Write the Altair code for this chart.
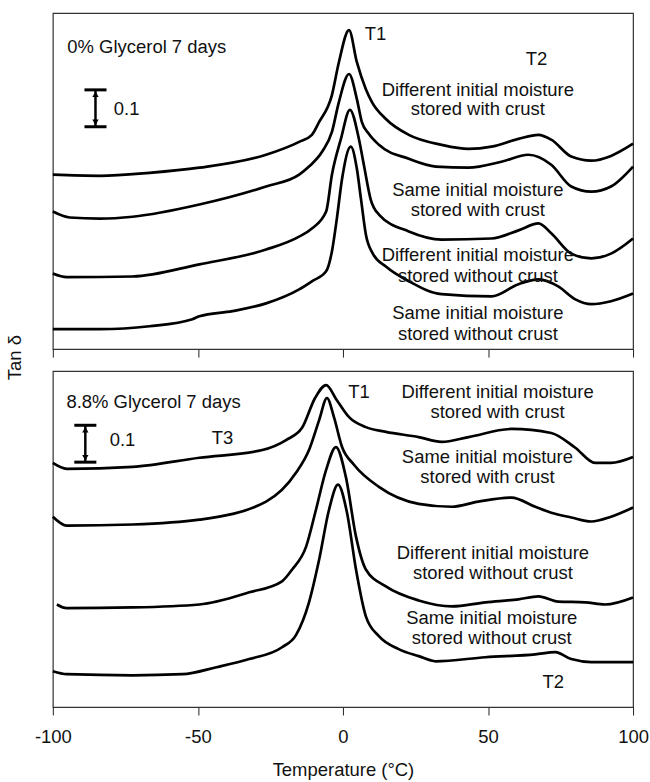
import altair as alt
import pandas as pd

FONT = "Liberation Sans"
FS = 18.5

# ---------------- data: top panel (0% glycerol) ----------------
top_dwc_t = [-100, -83.8, -66.7, -49.5, -26.5, -15.1, -10.7, -8.2, -3.8, -1.4, 2.1, 4.8, 7.9, 10.0, 14.8, 22.7, 34.0, 43.3, 51.2, 60.5, 67.4, 71.8, 78.7, 85.6, 92.4, 100]
top_dwc_v = [0.473, 0.470, 0.478, 0.492, 0.527, 0.562, 0.581, 0.616, 0.689, 0.778, 0.865, 0.778, 0.705, 0.670, 0.624, 0.581, 0.554, 0.543, 0.549, 0.570, 0.581, 0.568, 0.522, 0.511, 0.524, 0.557]

top_swc_t = [-100, -94.2, -83.8, -72.5, -49.5, -26.5, -15.1, -11.7, -7.2, -3.8, -1.4, 2.1, 4.8, 6.5, 8.9, 12.4, 22.7, 32.0, 43.3, 54.6, 63.9, 71.8, 78.7, 85.6, 92.4, 100]
top_swc_v = [0.373, 0.357, 0.354, 0.359, 0.392, 0.441, 0.473, 0.495, 0.535, 0.589, 0.670, 0.746, 0.678, 0.616, 0.584, 0.554, 0.516, 0.495, 0.492, 0.508, 0.527, 0.500, 0.441, 0.427, 0.441, 0.495]

top_dwo_t = [-100, -95.2, -72.5, -49.5, -26.5, -15.1, -10.7, -5.8, -3.8, -0.7, 2.4, 5.5, 7.2, 9.6, 12.4, 22.7, 34.0, 51.2, 60.5, 67.4, 71.8, 78.7, 85.6, 92.4, 100]
top_dwo_v = [0.205, 0.195, 0.197, 0.230, 0.270, 0.305, 0.327, 0.373, 0.473, 0.570, 0.649, 0.570, 0.500, 0.405, 0.365, 0.319, 0.297, 0.300, 0.322, 0.341, 0.314, 0.259, 0.246, 0.259, 0.300]

top_swo_t = [-100, -83.8, -66.7, -51.9, -49.5, -38.1, -26.5, -15.1, -10.7, -5.8, -3.8, -2.1, -0.3, 2.7, 4.8, 6.2, 7.9, 10.3, 14.8, 22.7, 34.0, 51.2, 60.5, 67.4, 74.2, 80.1, 85.6, 92.4, 100]
top_swo_v = [0.054, 0.054, 0.062, 0.081, 0.089, 0.103, 0.124, 0.162, 0.184, 0.211, 0.265, 0.354, 0.462, 0.549, 0.489, 0.408, 0.311, 0.259, 0.224, 0.184, 0.149, 0.143, 0.176, 0.189, 0.170, 0.135, 0.122, 0.130, 0.151]

# ---------------- data: bottom panel (8.8% glycerol) ----------------
bot_dwc_t = [-100, -95.2, -72.5, -49.5, -27.8, -19.6, -14.1, -9.6, -5.8, -2.1, 2.1, 7.9, 14.8, 26.1, 34.0, 43.3, 58.1, 71.8, 80.1, 86.9, 92.4, 100]
bot_dwc_v = [0.662, 0.646, 0.651, 0.676, 0.697, 0.724, 0.757, 0.838, 0.873, 0.832, 0.786, 0.759, 0.746, 0.732, 0.719, 0.732, 0.754, 0.743, 0.703, 0.662, 0.662, 0.678]

bot_swc_t = [-100, -95.2, -72.5, -49.5, -26.5, -16.2, -11.7, -8.2, -5.5, -3.1, -0.3, 3.8, 12.4, 26.1, 37.5, 46.7, 58.1, 66.3, 71.8, 78.7, 85.6, 92.4, 100]
bot_swc_v = [0.516, 0.492, 0.495, 0.508, 0.557, 0.635, 0.697, 0.778, 0.838, 0.786, 0.705, 0.657, 0.597, 0.551, 0.543, 0.557, 0.568, 0.543, 0.527, 0.514, 0.503, 0.516, 0.541]

bot_dwo_t = [-98.6, -95.2, -72.5, -49.5, -32.3, -21.0, -17.5, -12.7, -9.3, -5.8, -2.4, 1.0, 4.5, 7.9, 14.8, 26.1, 37.5, 49.1, 60.5, 67.4, 74.2, 83.5, 90.4, 100]
bot_dwo_v = [0.278, 0.268, 0.270, 0.278, 0.311, 0.341, 0.373, 0.435, 0.535, 0.643, 0.705, 0.624, 0.462, 0.373, 0.327, 0.289, 0.273, 0.284, 0.292, 0.300, 0.286, 0.284, 0.278, 0.297]

bot_swo_t = [-100, -95.2, -72.5, -55.3, -43.6, -32.3, -21.0, -16.2, -11.7, -8.2, -4.8, -1.7, 1.4, 4.5, 7.9, 12.4, 19.2, 26.1, 32.0, 49.1, 66.3, 73.2, 78.7, 85.6, 100]
bot_swo_v = [0.097, 0.089, 0.086, 0.089, 0.108, 0.130, 0.162, 0.195, 0.284, 0.400, 0.535, 0.603, 0.527, 0.373, 0.246, 0.192, 0.157, 0.138, 0.124, 0.135, 0.143, 0.149, 0.130, 0.122, 0.122]

# ---------------- annotations ----------------
top_lbl_text = ["Different initial moisture", "stored with crust",
                "Same initial moisture", "stored with crust",
                "Different initial moisture", "stored without crust",
                "Same initial moisture", "stored without crust",
                "T1", "T2"]
top_lbl_t = [46.5, 46.5, 46.5, 46.5, 46.5, 46.5, 46.5, 46.5, 11.2, 66.7]
top_lbl_v = [0.703, 0.650, 0.432, 0.378, 0.256, 0.197, 0.098, 0.040, 0.855, 0.787]

bot_lbl_text = ["Different initial moisture", "stored with crust",
                "Same initial moisture", "stored with crust",
                "Different initial moisture", "stored without crust",
                "Same initial moisture", "stored without crust",
                "T1", "T2", "T3"]
bot_lbl_t = [53.3, 53.3, 49.8, 49.8, 51.7, 51.7, 51.3, 51.3, 5.5, 72.5, -41.5]
bot_lbl_v = [0.855, 0.801, 0.679, 0.624, 0.418, 0.364, 0.242, 0.188, 0.855, 0.067, 0.730]

top_left_text = ["0% Glycerol 7 days", "0.1"]
top_left_t = [-95.0, -79.0]
top_left_v = [0.819, 0.651]

bot_left_text = ["8.8% Glycerol 7 days", "0.1"]
bot_left_t = [-95.3, -80.4]
bot_left_v = [0.828, 0.724]

# scale bars (0.1 tan delta)
top_bar_t = -85.3
top_bar_v = [0.603, 0.703]
bot_bar_t = -88.8
bot_bar_v = [0.664, 0.764]

x_ticks = [-100, -50, 0, 50, 100]
Y_MAX = 0.911
W, H = 582, 337


def curves_df(series):
    rows = []
    for name, ts, vs in series:
        for t, v in zip(ts, vs):
            rows.append({"T": t, "v": v, "curve": name})
    return pd.DataFrame(rows)


def panel(series, lbl_text, lbl_t, lbl_v, left_text, left_t, left_v, bar_t, bar_v, bottom):
    xs = alt.Scale(domain=[-100, 100], nice=False, zero=False)
    ys = alt.Scale(domain=[0, Y_MAX], nice=False, zero=False)
    if bottom:
        xaxis = alt.Axis(values=x_ticks, grid=False, domain=False, tickSize=8, tickColor="#222",
                         labelFontSize=FS, labelFont=FONT, labelColor="#111", labelPadding=13,
                         labelExpr="toString(datum.value)", labelFlush=False, labelOverlap=False,
                         title="Temperature (°C)", titleFont=FONT, titleFontSize=FS,
                         titleFontWeight="normal", titleColor="#111", titlePadding=14)
    else:
        xaxis = alt.Axis(values=x_ticks, grid=False, domain=False, tickSize=8, tickColor="#222",
                         labels=False, title=None)
    if bottom:
        yaxis = alt.Axis(labels=False, ticks=False, domain=False, grid=False, title=None)
    else:
        yaxis = alt.Axis(labels=False, ticks=False, domain=False, grid=False, title="Tan δ",
                         titleFont=FONT, titleFontSize=FS, titleFontWeight="normal",
                         titleColor="#111", titlePadding=28, titleY=345)

    df = curves_df(series)
    lines = alt.Chart(df).mark_line(color="black", strokeWidth=2.7, interpolate="monotone").encode(
        x=alt.X("T:Q", scale=xs, axis=xaxis),
        y=alt.Y("v:Q", scale=ys, axis=yaxis),
        detail="curve:N",
    )

    lbl_df = pd.DataFrame({"T": lbl_t, "v": lbl_v, "text": lbl_text})
    labels = alt.Chart(lbl_df).mark_text(font=FONT, fontSize=FS, color="#111", align="center",
                                         baseline="middle").encode(
        x=alt.X("T:Q", scale=xs), y=alt.Y("v:Q", scale=ys), text="text:N")

    left_df = pd.DataFrame({"T": left_t, "v": left_v, "text": left_text})
    left_labels = alt.Chart(left_df).mark_text(font=FONT, fontSize=FS, color="#111", align="left",
                                               baseline="middle").encode(
        x=alt.X("T:Q", scale=xs), y=alt.Y("v:Q", scale=ys), text="text:N")

    bar_df = pd.DataFrame({"T": [bar_t], "v0": [bar_v[0]], "v1": [bar_v[1]]})
    stem = alt.Chart(bar_df).mark_rule(color="black", strokeWidth=2.5).encode(
        x=alt.X("T:Q", scale=xs), y=alt.Y("v0:Q", scale=ys), y2="v1:Q")
    cap_df = pd.DataFrame({"t0": [bar_t - 3.8, bar_t - 3.8], "t1": [bar_t + 3.8, bar_t + 3.8],
                           "v": bar_v})
    caps = alt.Chart(cap_df).mark_rule(color="black", strokeWidth=3).encode(
        x=alt.X("t0:Q", scale=xs), x2="t1:Q", y=alt.Y("v:Q", scale=ys))
    arr_df = pd.DataFrame({"T": [bar_t, bar_t], "v": [bar_v[0] + 0.012, bar_v[1] - 0.012],
                           "shape": ["triangle-down", "triangle-up"]})
    arrows = alt.Chart(arr_df).mark_point(filled=True, color="black", size=40, opacity=1).encode(
        x=alt.X("T:Q", scale=xs), y=alt.Y("v:Q", scale=ys),
        shape=alt.Shape("shape:N", scale=None, legend=None))

    return alt.layer(lines, stem, caps, arrows, labels, left_labels).properties(width=W, height=H)


top = panel([("dwc", top_dwc_t, top_dwc_v), ("swc", top_swc_t, top_swc_v),
             ("dwo", top_dwo_t, top_dwo_v), ("swo", top_swo_t, top_swo_v)],
            top_lbl_text, top_lbl_t, top_lbl_v, top_left_text, top_left_t, top_left_v,
            top_bar_t, top_bar_v, bottom=False)
bot = panel([("dwc", bot_dwc_t, bot_dwc_v), ("swc", bot_swc_t, bot_swc_v),
             ("dwo", bot_dwo_t, bot_dwo_v), ("swo", bot_swo_t, bot_swo_v)],
            bot_lbl_text, bot_lbl_t, bot_lbl_v, bot_left_text, bot_left_t, bot_left_v,
            bot_bar_t, bot_bar_v, bottom=True)

chart = alt.vconcat(top, bot, spacing=22, bounds="flush").properties(
    padding={"left": 5, "top": 11, "right": 0, "bottom": 0},
    background="white",
).configure_view(stroke="#333", strokeWidth=1.2)

chart.save("out.html", embed_options={"renderer": "svg", "actions": False})
